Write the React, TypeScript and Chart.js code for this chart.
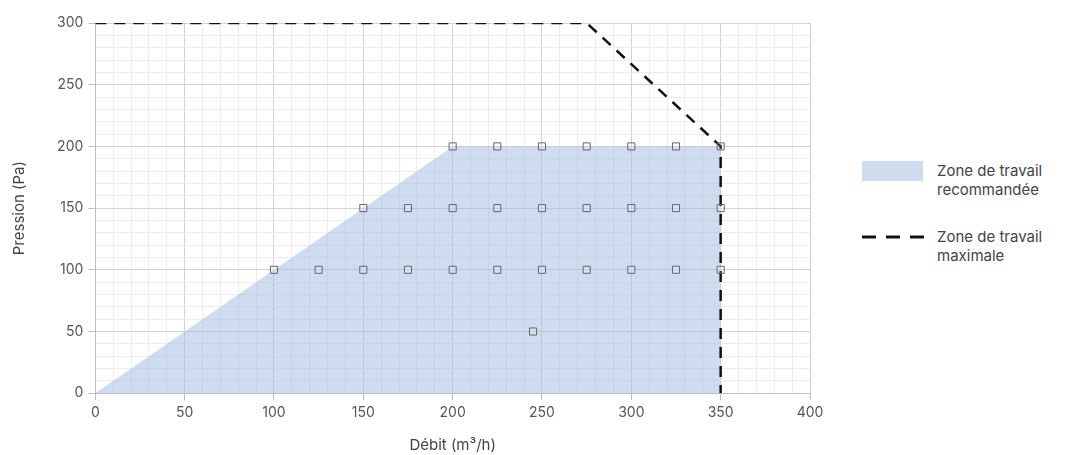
import React, { useEffect, useRef } from "react";
import { Chart, registerables } from "chart.js";

Chart.register(...registerables);

const zoneRecommandee = [
  { x: 0, y: 0 },
  { x: 200, y: 200 },
  { x: 350, y: 200 },
  { x: 350, y: 0 },
];

const zoneMaximale = [
  { x: 0, y: 300 },
  { x: 275, y: 300 },
  { x: 350, y: 200 },
  { x: 350, y: 0 },
];

const mesures = [
  { x: 100, y: 100 }, { x: 125, y: 100 }, { x: 150, y: 100 }, { x: 175, y: 100 },
  { x: 200, y: 100 }, { x: 225, y: 100 }, { x: 250, y: 100 }, { x: 275, y: 100 },
  { x: 300, y: 100 }, { x: 325, y: 100 }, { x: 350, y: 100 },
  { x: 150, y: 150 }, { x: 175, y: 150 }, { x: 200, y: 150 }, { x: 225, y: 150 },
  { x: 250, y: 150 }, { x: 275, y: 150 }, { x: 300, y: 150 }, { x: 325, y: 150 },
  { x: 350, y: 150 },
  { x: 200, y: 200 }, { x: 225, y: 200 }, { x: 250, y: 200 }, { x: 275, y: 200 },
  { x: 300, y: 200 }, { x: 325, y: 200 }, { x: 350, y: 200 },
  { x: 245, y: 50 },
];

const legendLabels = ["Zone de travail recommandée", "Zone de travail maximale"];
const xTitle = "Débit (m³/h)";
const yTitle = "Pression (Pa)";

const FONT = "Inter, 'Noto Sans', sans-serif";
const MAJOR = "#d2d2d2";
const MINOR = "#ededed";

export default function App() {
  const ref = useRef<HTMLCanvasElement | null>(null);

  useEffect(() => {
    document.body.style.margin = "0";
    if (!ref.current) return;
    const gridColor = (ctx: any) =>
      ctx.tick && ctx.tick.value % 50 === 0 ? MAJOR : MINOR;
    const tickColor = (ctx: any) =>
      ctx.tick && ctx.tick.value % 50 === 0 ? "#bdbdbd" : "rgba(0,0,0,0)";
    const chart = new Chart(ref.current, {
      type: "scatter",
      data: {
        datasets: [
          {
            label: "mesures",
            data: mesures,
            pointStyle: "rect",
            pointRadius: 5,
            pointBorderWidth: 1,
            pointBorderColor: "#666",
            pointBackgroundColor: "rgba(255,255,255,0.15)",
            showLine: false,
            order: 0,
          },
          {
            label: legendLabels[1],
            data: zoneMaximale,
            showLine: true,
            borderColor: "#111",
            borderWidth: 2.5,
            borderDash: [11, 8],
            pointRadius: 0,
            fill: false,
            order: 1,
          },
          {
            label: legendLabels[0],
            data: zoneRecommandee,
            showLine: true,
            borderWidth: 0,
            borderColor: "rgba(0,0,0,0)",
            backgroundColor: "rgba(160,185,225,0.5)",
            pointRadius: 0,
            fill: "origin",
            order: 2,
          },
        ],
      },
      options: {
        animation: false,
        responsive: false,
        layout: { padding: { top: 23, right: 20, bottom: 1, left: 10 } },
        plugins: { legend: { display: false }, tooltip: { enabled: false } },
        scales: {
          x: {
            type: "linear",
            min: 0,
            max: 400,
            border: { color: "#bdbdbd" },
            grid: { color: gridColor, tickColor, tickLength: 7 },
            ticks: {
              stepSize: 10,
              autoSkip: false,
              maxRotation: 0,
              padding: 4,
              color: "#555",
              font: { family: FONT, size: 14 },
              callback: (v: any) => (Number(v) % 50 === 0 ? String(v) : ""),
            },
            title: {
              display: true,
              text: xTitle,
              color: "#444",
              font: { family: FONT, size: 15 },
              padding: { top: 11, bottom: 0 },
            },
          },
          y: {
            type: "linear",
            min: 0,
            max: 300,
            border: { color: "#bdbdbd" },
            grid: { color: gridColor, tickColor, tickLength: 7 },
            ticks: {
              stepSize: 10,
              autoSkip: false,
              padding: 5,
              color: "#555",
              font: { family: FONT, size: 14 },
              callback: (v: any) => (Number(v) % 50 === 0 ? String(v) : ""),
            },
            title: {
              display: true,
              text: yTitle,
              color: "#444",
              font: { family: FONT, size: 15 },
              padding: { top: 0, bottom: 24 },
            },
          },
        },
      },
    });
    return () => chart.destroy();
  }, []);

  const textStyle: React.CSSProperties = {
    fontFamily: FONT,
    fontSize: 15,
    lineHeight: "19px",
    color: "#444",
    position: "absolute",
    left: 937,
  };

  return (
    <div style={{ position: "relative", width: 1072, height: 455, background: "#fff" }}>
      <canvas ref={ref} width={830} height={455} style={{ position: "absolute", left: 0, top: 0 }} />
      <div style={{ position: "absolute", left: 862, top: 161, width: 61, height: 20, background: "rgba(160,185,225,0.5)" }} />
      <div style={{ ...textStyle, top: 161 }}>Zone de travail<br />recommandée</div>
      <svg style={{ position: "absolute", left: 862, top: 234 }} width={62} height={6}>
        <line x1={0} y1={3} x2={62} y2={3} stroke="#111" strokeWidth={3} strokeDasharray="14 10" />
      </svg>
      <div style={{ ...textStyle, top: 227 }}>Zone de travail<br />maximale</div>
    </div>
  );
}
